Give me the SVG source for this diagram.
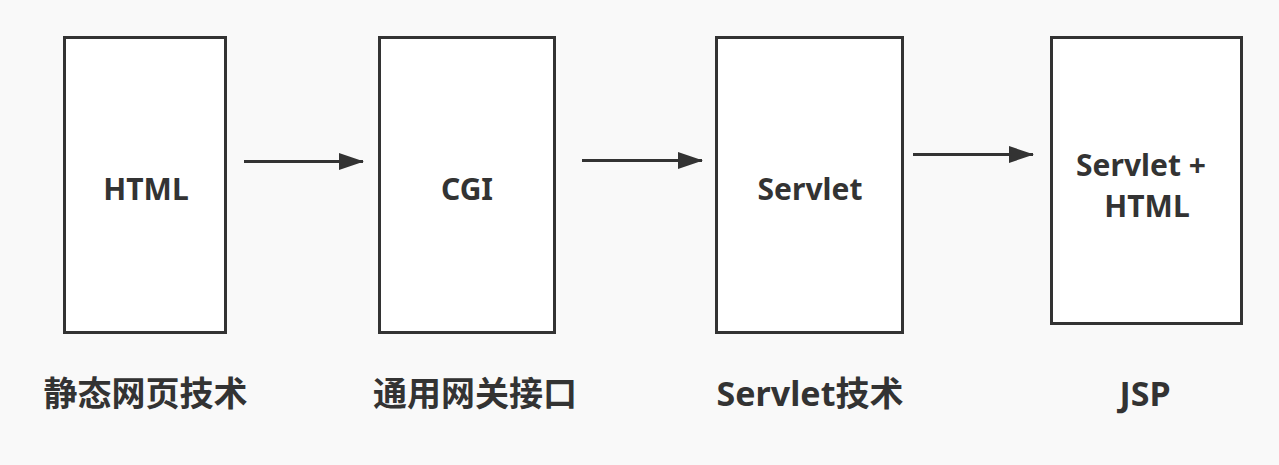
<svg xmlns="http://www.w3.org/2000/svg" width="1279" height="465" viewBox="0 0 1279 465">
<style>
.box{fill:#ffffff;stroke:#333333;stroke-width:3}
.t{font-family:"Noto Sans","Noto Sans CJK SC",sans-serif;font-weight:bold;font-size:30px;fill:#333333;text-anchor:middle}
.lab{font-family:"Noto Sans","Noto Sans CJK SC",sans-serif;font-weight:bold;font-size:34px;fill:#333333;text-anchor:middle}
.c{stroke:#333333;stroke-width:3;fill:none}
</style>
<defs>
<marker id="ah" markerUnits="userSpaceOnUse" markerWidth="26" markerHeight="18" refX="24" refY="8.5" orient="auto" viewBox="0 0 26 18">
<path d="M0,0 L25,8.5 L0,17 Z" fill="#333333"/>
</marker>
</defs>
<rect width="1279" height="465" fill="#f9f9f9"/>
<g id="node-html">
<rect class="box" x="64.5" y="37.5" width="161" height="295"/>
<text class="t" x="146" y="200">HTML</text>
</g>
<g id="node-cgi">
<rect class="box" x="379.5" y="37.5" width="175" height="295"/>
<text class="t" x="467" y="200">CGI</text>
</g>
<g id="node-servlet">
<rect class="box" x="716.5" y="37.5" width="186" height="295"/>
<text class="t" x="810" y="200">Servlet</text>
</g>
<g id="node-jsp">
<rect class="box" x="1051.5" y="37.5" width="190" height="286"/>
<text class="t" x="1141" y="176">Servlet +</text>
<text class="t" x="1147" y="217">HTML</text>
</g>
<g id="connectors">
<line class="c" x1="244" y1="161.5" x2="363" y2="161.5" marker-end="url(#ah)"/>
<line class="c" x1="582" y1="160.5" x2="702" y2="160.5" marker-end="url(#ah)"/>
<line class="c" x1="913" y1="154.5" x2="1033" y2="154.5" marker-end="url(#ah)"/>
</g>
<g id="labels">
<text class="lab" x="145.5" y="406">静态网页技术</text>
<text class="lab" x="475" y="406">通用网关接口</text>
<text class="lab" x="810" y="406">Servlet技术</text>
<text class="lab" x="1145" y="406">JSP</text>
</g>
</svg>
